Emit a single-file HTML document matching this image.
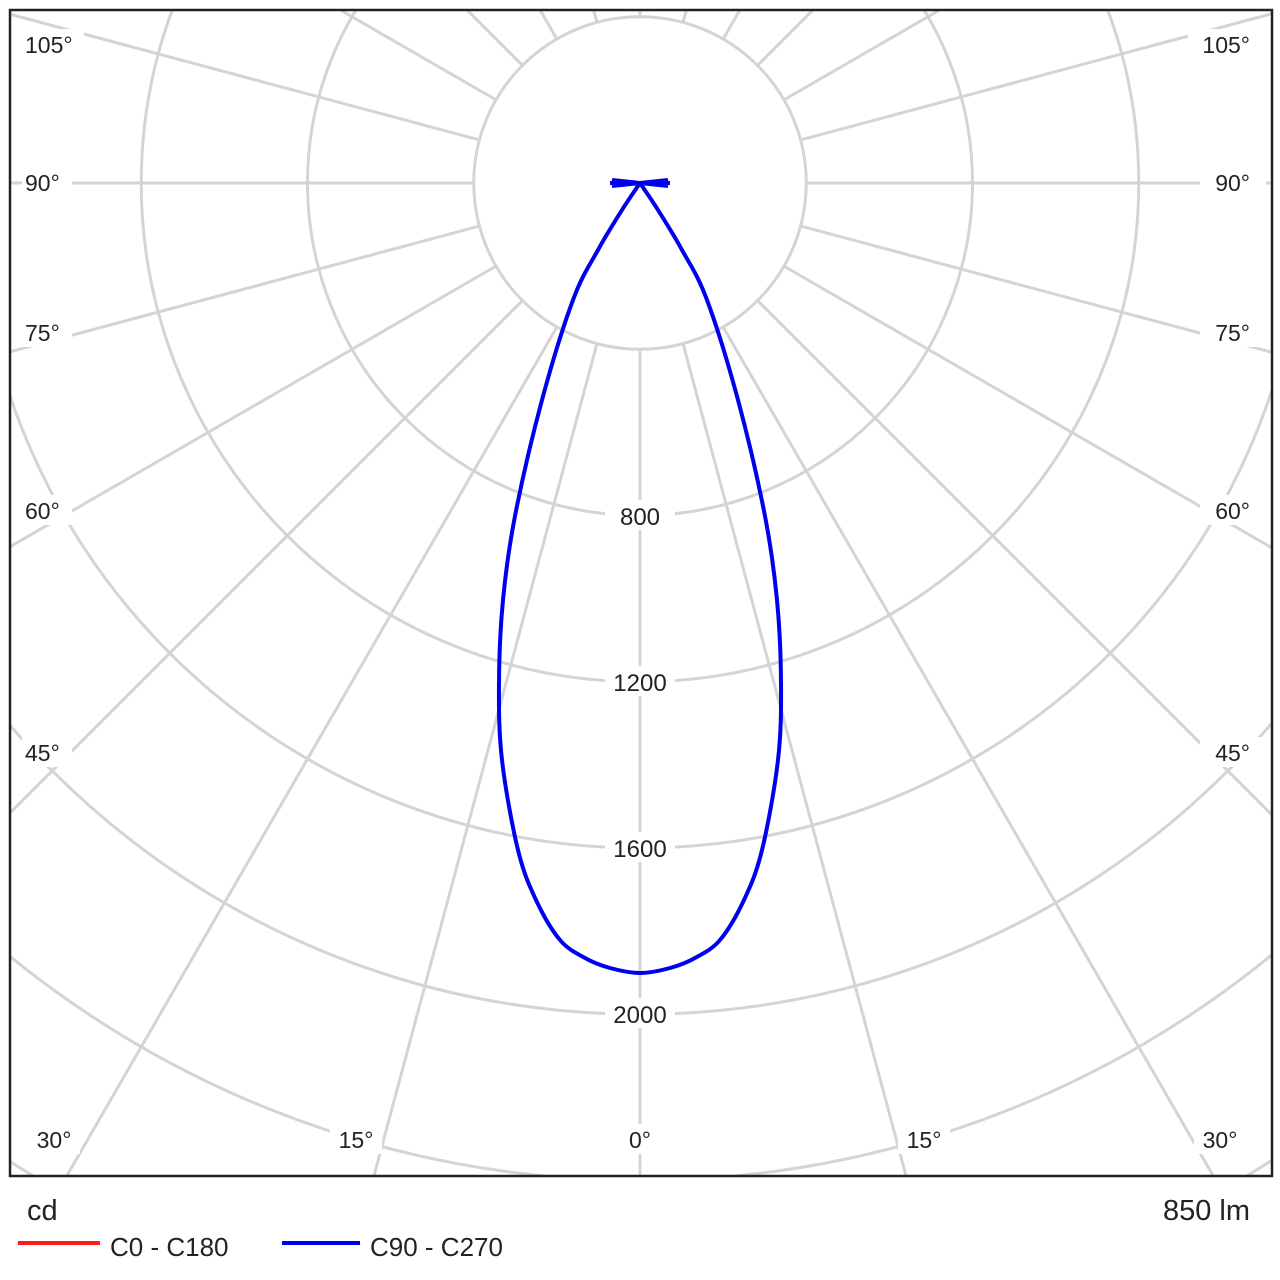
<!DOCTYPE html>
<html><head><meta charset="utf-8"><style>
html,body{margin:0;padding:0;background:#fff;overflow:hidden;width:1280px;height:1280px;}
svg{display:block;}
</style></head><body>
<svg id="s" width="1280" height="1280" xmlns="http://www.w3.org/2000/svg" font-family="Liberation Sans, sans-serif">
<defs><clipPath id="c"><rect x="10" y="10" width="1262" height="1166"/></clipPath></defs>
<rect width="1280" height="1280" fill="#fff"/>
<g id="grid" clip-path="url(#c)" stroke="#d4d4d4" stroke-width="3" fill="none"></g>
<g id="lbl" font-size="23" fill="#222"></g>
<path id="curve" fill="none" stroke="#0000ee" stroke-width="4" stroke-linejoin="round"/>
<rect x="10" y="10" width="1262" height="1166" fill="none" stroke="#222" stroke-width="2.5"/>
<text x="27" y="1220" font-size="29" fill="#222">cd</text>
<text x="1250" y="1220" font-size="29" fill="#222" text-anchor="end">850 lm</text>
<line x1="18" y1="1243" x2="100" y2="1243" stroke="#ff1a1a" stroke-width="4"/>
<text x="110" y="1256" font-size="26" fill="#222">C0 - C180</text>
<line x1="282" y1="1243" x2="360" y2="1243" stroke="#0000ee" stroke-width="4"/>
<text x="370" y="1256" font-size="26" fill="#222">C90 - C270</text>
</svg>
<script>
var NS="http://www.w3.org/2000/svg",cx=640,cy=183,u=166.25;
var g=document.getElementById('grid'),L=document.getElementById('lbl');
function el(p,t,a){var e=document.createElementNS(NS,t);for(var k in a)e.setAttribute(k,a[k]);p.appendChild(e);return e;}
for(var k=1;k<=8;k++)el(g,'circle',{cx:cx,cy:cy,r:k*u});
for(var a=0;a<360;a+=15){var r=a*Math.PI/180;el(g,'line',{x1:cx+u*Math.sin(r),y1:cy+u*Math.cos(r),x2:cx+1400*Math.sin(r),y2:cy+1400*Math.cos(r)});}
[[800,516],[1200,682],[1600,848],[2000,1014]].forEach(function(v){
 el(L,'rect',{x:605,y:v[1]-16,width:70,height:30,fill:'#fff'});
 var t=el(L,'text',{x:640,y:v[1]+9,'text-anchor':'middle','font-size':'24'});t.textContent=v[0];});
var al=[['105°',45],['90°',183],['75°',333],['60°',511],['45°',753]];
al.forEach(function(v){
 el(L,'rect',{x:22,y:v[1]-16,width:v[0].length>3?62:50,height:30,fill:'#fff'});
 var t=el(L,'text',{x:25,y:v[1]+8});t.textContent=v[0];
 el(L,'rect',{x:1200-(v[0].length>3?12:0),y:v[1]-16,width:66,height:30,fill:'#fff'});
 t=el(L,'text',{x:1250,y:v[1]+8,'text-anchor':'end'});t.textContent=v[0];});
[['30°',54],['15°',356],['0°',640],['15°',924],['30°',1220]].forEach(function(v){
 el(L,'rect',{x:v[1]-26,y:1124,width:52,height:30,fill:'#fff'});
 var t=el(L,'text',{x:v[1],y:1148,'text-anchor':'middle'});t.textContent=v[0];});
// curve via half-width profile
var W=[[183,0],[210,18],[250,42],[300,67],[400,98],[516,125],[600,137],[682,141],[760,138],[850,122],[900,104],[940,80],[958,55],[968,30],[973,0]];
var pts=[];
for(var i=0;i<W.length;i++)pts.push([cx+W[i][1],W[i][0]]);
var full=pts.slice().concat(pts.slice(0,-1).reverse().map(function(p){return [2*cx-p[0],p[1]];}));
// Catmull-Rom to bezier
var d='M'+full[0][0]+' '+full[0][1];
for(var i=0;i<full.length-1;i++){
 var p0=full[Math.max(i-1,0)],p1=full[i],p2=full[i+1],p3=full[Math.min(i+2,full.length-1)];
 if(i==0)p0=[2*p1[0]-p2[0],2*p1[1]-p2[1]];
 var c1=[p1[0]+(p2[0]-p0[0])/6,p1[1]+(p2[1]-p0[1])/6],c2=[p2[0]-(p3[0]-p1[0])/6,p2[1]-(p3[1]-p1[1])/6];
 d+=' C'+c1[0].toFixed(1)+' '+c1[1].toFixed(1)+' '+c2[0].toFixed(1)+' '+c2[1].toFixed(1)+' '+p2[0].toFixed(1)+' '+p2[1].toFixed(1);
}
d+=' M610 183 L670 183 M612 180 L668 186 M612 186 L668 180';
document.getElementById('curve').setAttribute('d',d);
</script>
</body></html>
